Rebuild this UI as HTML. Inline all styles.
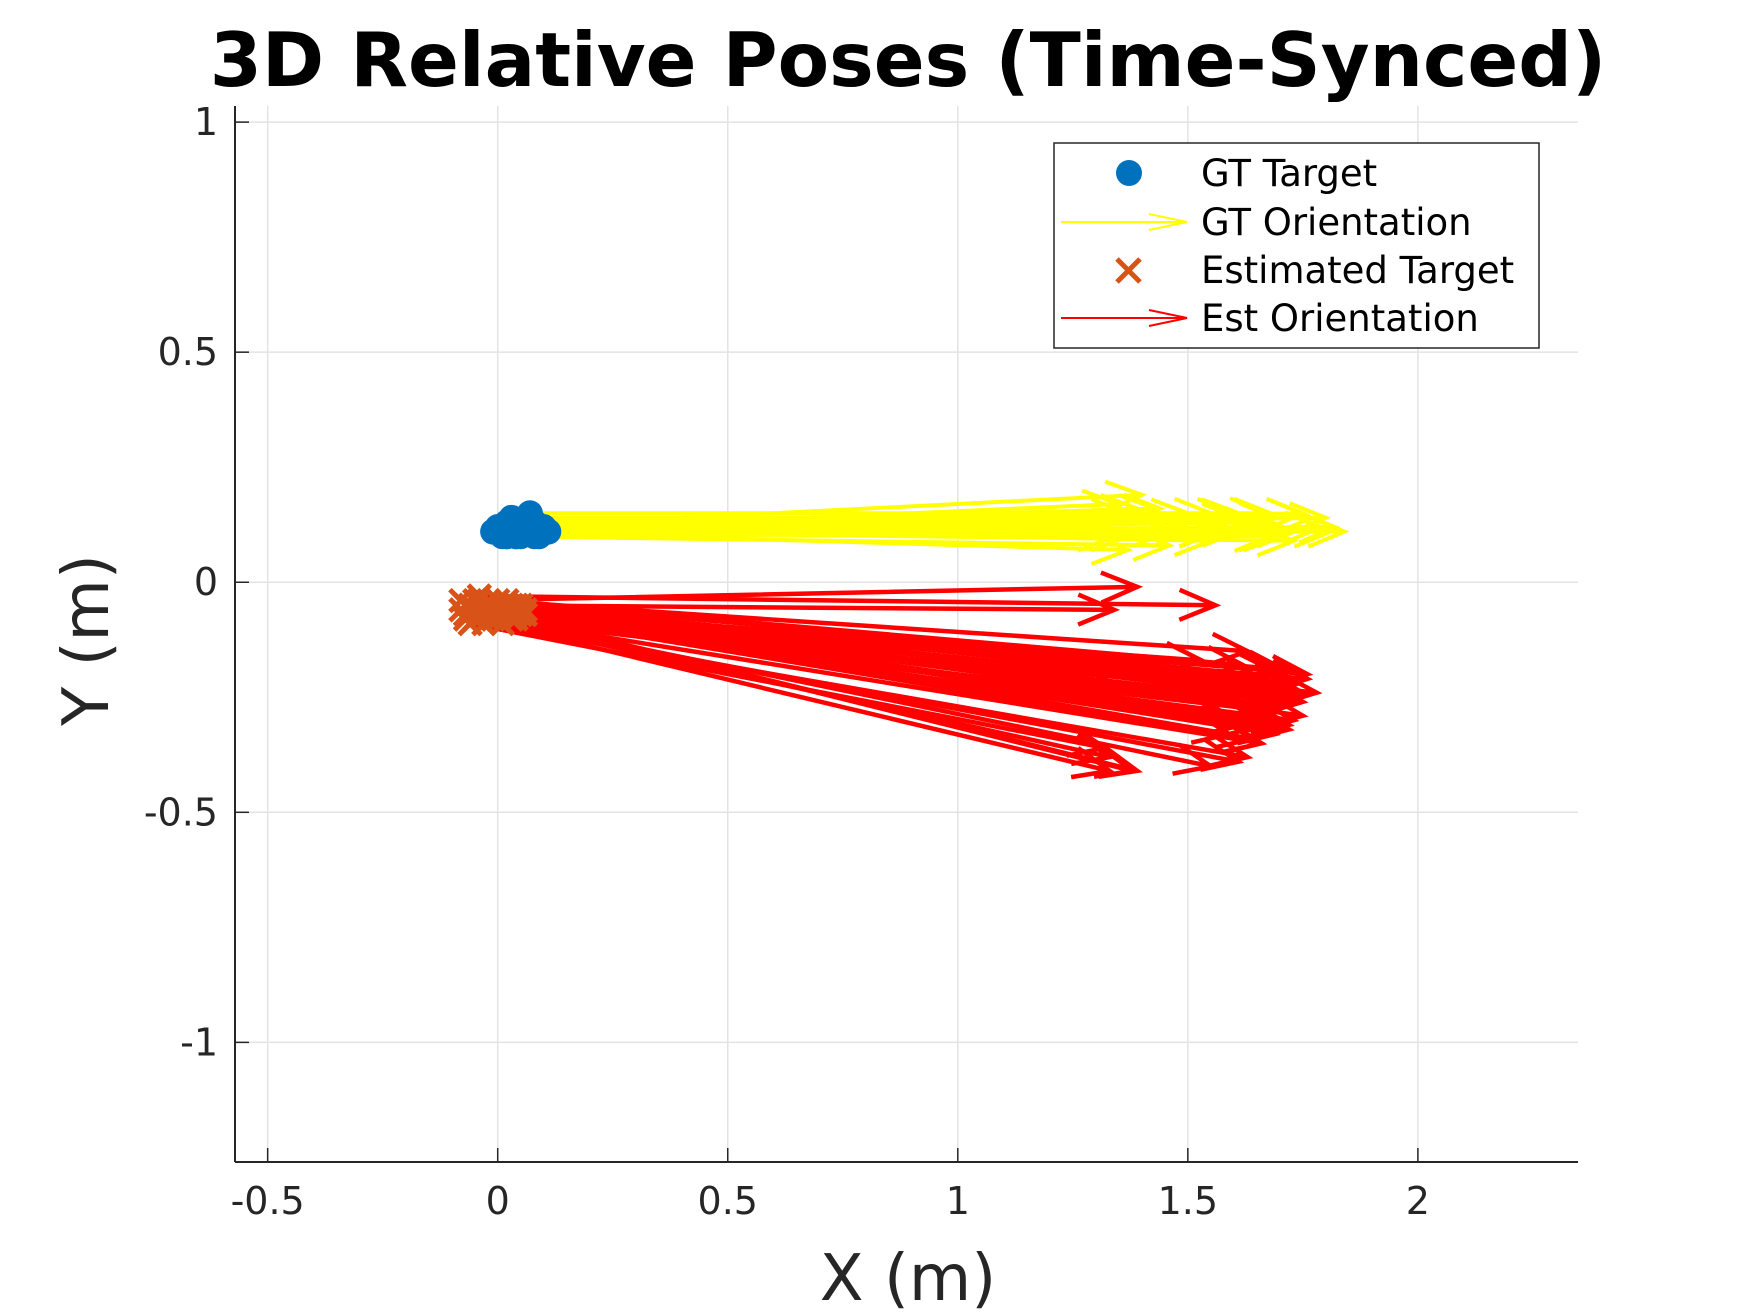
<!DOCTYPE html>
<html><head><meta charset="utf-8"><style>
html,body{margin:0;padding:0;background:#fff;}
svg{display:block;font-family:"DejaVu Sans","Liberation Sans",sans-serif;}
</style></head><body>
<svg id="chart" width="1750" height="1313" viewBox="0 0 1750 1313" xmlns="http://www.w3.org/2000/svg">
<rect width="1750" height="1313" fill="#fff"/>
<text x="908" y="86" text-anchor="middle" font-size="75" font-weight="bold" fill="#000">3D Relative Poses (Time-Synced)</text>
<g id="grid"></g>
<g id="marks"></g>
<g id="axes"></g>
<text x="908" y="1300" text-anchor="middle" font-size="64" fill="#262626">X (m)</text>
<text transform="translate(108,640) rotate(-90)" text-anchor="middle" font-size="64" fill="#262626">Y (m)</text>
<g>
<rect x="1054" y="143" width="485" height="205" fill="#fff" stroke="#262626" stroke-width="1.5"/>
<g>
<circle cx="1129" cy="173" r="13" fill="#0072BD"/>
<text x="1201" y="186" font-size="37" fill="#000">GT Target</text></g>
<g>
<path d="M1061 222H1187M1149 214L1187 222L1149 230" fill="none" stroke="#ffff00" stroke-width="2"/>
<text x="1201" y="235" font-size="37" fill="#000">GT Orientation</text></g>
<g>
<path d="M1117 259L1140 282M1140 259L1117 282" stroke="#D95319" stroke-width="5"/>
<text x="1201" y="283" font-size="37" fill="#000">Estimated Target</text></g>
<g>
<path d="M1061 318H1187M1149 310L1187 318L1149 326" fill="none" stroke="#ff0000" stroke-width="2"/>
<text x="1201" y="331" font-size="37" fill="#000">Est Orientation</text></g>
</g>
</svg>
<script>
const xTicks=[-0.5,0,0.5,1,1.5,2];
const xTickLabels=["-0.5","0","0.5","1","1.5","2"];
const yTicks=[1,0.5,0,-0.5,-1];
const yTickLabels=["1","0.5","0","-0.5","-1"];
const gtX=[0.00,0.02,0.05,0.07,0.03,0.09,0.01,0.06,0.04,0.08,-0.01,0.02,0.10,0.05,0.03,0.07,0.00,0.04,0.06,0.09,0.11,0.02,0.05,0.08,0.03,0.01,0.04,0.06,0.08,0.10,0.02,0.05,0.07,0.03,0.09,0.00,0.06,0.04,0.08,0.01];
const gtY=[0.11,0.12,0.13,0.15,0.12,0.11,0.10,0.14,0.13,0.12,0.11,0.10,0.12,0.11,0.14,0.13,0.12,0.10,0.11,0.12,0.11,0.13,0.10,0.10,0.11,0.12,0.11,0.12,0.13,0.11,0.10,0.12,0.11,0.13,0.10,0.11,0.12,0.10,0.11,0.12];
const gtU=[1.35,1.42,1.50,1.60,1.70,1.75,1.45,1.55,1.65,1.72,1.38,1.48,1.58,1.68,1.74,1.30,1.40,1.52,1.62,1.66,1.70,1.44,1.56,1.64,1.36,1.33,1.46,1.54,1.61,1.69,1.41,1.51,1.59,1.67,1.73,1.37,1.49,1.57,1.63,1.71];
const gtV=[0.06,0.04,0.02,0.00,-0.01,0.00,-0.02,-0.03,0.01,0.02,-0.04,0.05,0.03,-0.02,0.00,-0.03,0.07,0.01,-0.01,0.03,0.00,-0.02,0.04,0.01,0.05,-0.02,0.00,0.03,-0.03,0.01,0.06,-0.01,0.02,-0.03,0.02,0.04,-0.03,0.05,0.00,-0.01];
const estX=[-0.08,-0.06,-0.04,-0.02,0.00,0.02,0.04,0.06,-0.07,-0.05,-0.03,-0.01,0.01,0.03,0.05,-0.06,-0.04,-0.02,0.00,0.02,0.04,-0.08,-0.03,0.01,0.05,-0.05,-0.01,0.03,0.06,-0.07,0.00,0.02,-0.04,0.04,-0.02,-0.06,-0.03,0.00,0.03,0.05,-0.07,-0.02,0.01,0.04,-0.05,0.02,-0.01,0.06,-0.04,0.00];
const estY=[-0.04,-0.05,-0.03,-0.06,-0.04,-0.05,-0.07,-0.06,-0.07,-0.08,-0.06,-0.05,-0.07,-0.08,-0.05,-0.09,-0.04,-0.08,-0.06,-0.04,-0.08,-0.06,-0.09,-0.09,-0.07,-0.06,-0.07,-0.06,-0.07,-0.05,-0.08,-0.07,-0.06,-0.05,-0.04,-0.05,-0.07,-0.06,-0.05,-0.06,-0.08,-0.05,-0.06,-0.07,-0.04,-0.05,-0.08,-0.07,-0.06,-0.07];
const estU=[1.47,1.40,1.60,1.55,1.62,1.72,1.74,1.70,1.40,1.38,1.42,1.60,1.68,1.70,1.66,1.38,1.62,1.70,1.75,1.74,1.68,1.42,1.66,1.60,1.64,1.72,1.76,1.72,1.66,1.45,1.55,1.62,1.70,1.58,1.65,1.78,1.75,1.70,1.66,1.62,1.80,1.73,1.69,1.64,1.76,1.71,1.67,1.60,1.74,1.68];
const estV=[0.03,-0.01,-0.02,-0.11,-0.14,-0.17,-0.17,-0.15,-0.31,-0.33,-0.35,-0.28,-0.25,-0.22,-0.20,-0.27,-0.22,-0.20,-0.18,-0.16,-0.24,-0.14,-0.29,-0.30,-0.26,-0.21,-0.19,-0.23,-0.24,-0.36,-0.32,-0.27,-0.15,-0.26,-0.11,-0.17,-0.19,-0.21,-0.23,-0.25,-0.16,-0.22,-0.24,-0.20,-0.15,-0.18,-0.27,-0.28,-0.13,-0.12];

const L=235,R=1578,T=106,B=1162;
const xMin=-0.571,xMax=2.348,yMin=-1.26,yMax=1.035;
const sx=v=>L+(v-xMin)/(xMax-xMin)*(R-L);
const sy=v=>B-(v-yMin)/(yMax-yMin)*(B-T);
const NS="http://www.w3.org/2000/svg";
function mk(tag,attrs,parent){const e=document.createElementNS(NS,tag);for(const k in attrs)e.setAttribute(k,attrs[k]);parent.appendChild(e);return e;}
const grid=document.getElementById('grid'),axes=document.getElementById('axes'),marks=document.getElementById('marks');
xTicks.forEach((t,i)=>{
 const x=sx(t);
 const g=mk('line',{x1:x,x2:x,y1:T,y2:B,stroke:'#e3e3e3','stroke-width':1.5},grid);
 
 
 const tk=mk('line',{x1:x,x2:x,y1:B,y2:B-14,stroke:'#262626','stroke-width':1.5},axes);
 
 
 const lb=mk('text',{x:x,y:B+52,'text-anchor':'middle','font-size':38,fill:'#262626'},axes);
 lb.textContent=xTickLabels[i];
 
 
});
yTicks.forEach((t,i)=>{
 const y=sy(t);
 const g=mk('line',{x1:L,x2:R,y1:y,y2:y,stroke:'#e3e3e3','stroke-width':1.5},grid);
 
 
 const tk=mk('line',{x1:L,x2:L+14,y1:y,y2:y,stroke:'#262626','stroke-width':1.5},axes);
 
 
 const lb=mk('text',{x:L-17,y:y+13,'text-anchor':'end','font-size':38,fill:'#262626'},axes);
 lb.textContent=yTickLabels[i];
 
 
});
const xa=mk('line',{x1:L,x2:R,y1:B,y2:B,stroke:'#262626','stroke-width':2},axes);


const ya=mk('line',{x1:L,x2:L,y1:T,y2:B,stroke:'#262626','stroke-width':2},axes);



function arrow(x0,y0,u,v,color,name,w){
 const px0=sx(x0),py0=sy(y0),px1=sx(x0+u),py1=sy(y0+v);
 const dx=px1-px0,dy=py1-py0,len=Math.hypot(dx,dy),ux=dx/len,uy=dy/len;
 const hl=36,hw=15;
 const bx=px1-ux*hl,by=py1-uy*hl;
 const d=`M${px0} ${py0}L${px1} ${py1}M${bx-uy*hw} ${by+ux*hw}L${px1} ${py1}L${bx+uy*hw} ${by-ux*hw}`;
 const p=mk('path',{d:d,fill:'none',stroke:color,'stroke-width':w},marks);
 
 
}
gtX.forEach((x,i)=>arrow(x,gtY[i],gtU[i],gtV[i],'#ffff00','gt-orientation-arrow',4));
estX.forEach((x,i)=>arrow(x,estY[i],estU[i],estV[i],'#ff0000','est-orientation-arrow',4.5));
gtX.forEach((x,i)=>{
 const c=mk('circle',{cx:sx(x),cy:sy(gtY[i]),r:13,fill:'#0072BD'},marks);
 
 
});
estX.forEach((x,i)=>{
 const cx=sx(x),cy=sy(estY[i]),s=11;
 const p=mk('path',{d:`M${cx-s} ${cy-s}L${cx+s} ${cy+s}M${cx+s} ${cy-s}L${cx-s} ${cy+s}`,stroke:'#D95319','stroke-width':5},marks);
 
 
});
</script>
</body></html>
